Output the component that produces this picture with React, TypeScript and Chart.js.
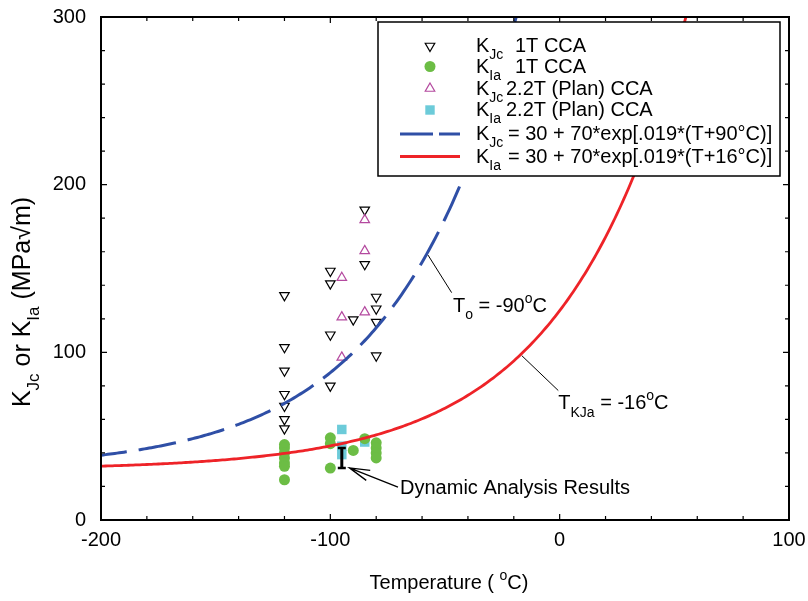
import React, { useEffect, useRef } from "react";
import { Chart, registerables } from "chart.js";

Chart.register(...registerables);

const FONT = "'Liberation Sans', Arial, Helvetica, sans-serif";

// K_Jc, 1T CCA specimens (temperature °C, toughness MPa√m)
const kjc1tT = [-120, -120, -120, -120, -120, -120, -120, -100, -100, -100, -100, -90, -85, -85, -80, -80, -80, -80];
const kjc1tK = [134, 103, 89, 75, 68, 60, 54.5, 148.5, 141, 110.5, 80, 119.5, 185, 152.5, 133, 126, 118, 98];

// K_Ia, 1T CCA specimens
const kia1tT = [-120, -120, -120, -120, -120, -120, -120, -100, -100, -100, -90, -85, -80, -80, -80, -80];
const kia1tK = [45, 43, 40, 37, 34, 32, 24, 49, 45.5, 31, 41.5, 48.5, 46, 43, 40, 37];

// K_Jc, 2.2T (Plan) CCA specimens
const kjc22T = [-85, -85, -95, -95, -95, -85];
const kjc22K = [179, 160.5, 144.5, 121, 97, 124];

// K_Ia, 2.2T (Plan) CCA specimens
const kia22T = [-95, -95, -95, -85];
const kia22K = [54, 44, 39, 46.5];

// Range from the dynamic analysis
const dynT = -95;
const dynLow = 31;
const dynHigh = 43;

// Curves K = A + B*exp[C*(T - Tref)]
const CURVE_A = 30;
const CURVE_B = 70;
const CURVE_C = 0.019;
const T_O = -90;
const T_KJA = -16;

const T_MIN = -200;
const T_MAX = 100;
const K_MIN = 0;
const K_MAX = 300;

const xTickStep = 100;
const yTickStep = 100;
const minorStep = 20;

const COLORS = {
  kjc1t: "#000000",
  kia1t: "#6cbd45",
  kjc22: "#b4499f",
  kia22: "#6ccbd9",
  blue: "#2f4fa6",
  red: "#ee2328",
};

const BLUE_DASH = [38, 12];

function curvePoints(tref: number) {
  const pts: { x: number; y: number }[] = [];
  for (let t = T_MIN; t <= T_MAX; t += 1) {
    const k = CURVE_A + CURVE_B * Math.exp(CURVE_C * (t - tref));
    pts.push({ x: t, y: k });
    if (k > K_MAX) break;
  }
  return pts;
}

const pairs = (xs: number[], ys: number[]) => xs.map((x, i) => ({ x, y: ys[i] }));

type Seg = { t: string; size?: number; dy?: number };

function richWidth(ctx: CanvasRenderingContext2D, segs: Seg[]) {
  let w = 0;
  for (const s of segs) {
    ctx.font = `${s.size ?? 20}px ${FONT}`;
    w += ctx.measureText(s.t).width;
  }
  return w;
}

function drawRich(ctx: CanvasRenderingContext2D, segs: Seg[], x: number, y: number, center = false) {
  let cx = center ? x - richWidth(ctx, segs) / 2 : x;
  ctx.textAlign = "left";
  ctx.textBaseline = "alphabetic";
  for (const s of segs) {
    ctx.font = `${s.size ?? 20}px ${FONT}`;
    ctx.fillText(s.t, cx, y + (s.dy ?? 0));
    cx += ctx.measureText(s.t).width;
  }
  return cx;
}

function symbol(ctx: CanvasRenderingContext2D, kind: string, x: number, y: number) {
  ctx.save();
  ctx.setLineDash([]);
  if (kind === "down" || kind === "up") {
    const r = 5.5;
    const s = kind === "down" ? -1 : 1;
    ctx.beginPath();
    ctx.moveTo(x, y - s * r);
    ctx.lineTo(x + r * Math.sin(Math.PI / 3), y + s * r / 2);
    ctx.lineTo(x - r * Math.sin(Math.PI / 3), y + s * r / 2);
    ctx.closePath();
    ctx.lineWidth = 1.2;
    ctx.strokeStyle = kind === "down" ? COLORS.kjc1t : COLORS.kjc22;
    ctx.stroke();
  } else if (kind === "circle") {
    ctx.beginPath();
    ctx.arc(x, y, 5.5, 0, Math.PI * 2);
    ctx.fillStyle = COLORS.kia1t;
    ctx.fill();
  } else if (kind === "square") {
    ctx.fillStyle = COLORS.kia22;
    ctx.fillRect(x - 4.7, y - 4.7, 9.4, 9.4);
  } else {
    ctx.lineWidth = 3;
    ctx.strokeStyle = kind === "blue" ? COLORS.blue : COLORS.red;
    if (kind === "blue") ctx.setLineDash([33, 6]);
    ctx.beginPath();
    ctx.moveTo(x - 30, y);
    ctx.lineTo(x + 30, y);
    ctx.stroke();
  }
  ctx.restore();
}

const SUB = 14;
const legendRows: { kind: string; y: number; sub: string; tail: string; tailX: number }[] = [
  { kind: "down", y: 46, sub: "Jc", tail: "1T CCA", tailX: 515 },
  { kind: "circle", y: 66.5, sub: "Ia", tail: "1T CCA", tailX: 515 },
  { kind: "up", y: 88.5, sub: "Jc", tail: "2.2T (Plan) CCA", tailX: 506 },
  { kind: "square", y: 110, sub: "Ia", tail: "2.2T (Plan) CCA", tailX: 506 },
  { kind: "blue", y: 134, sub: "Jc", tail: `= ${CURVE_A} + ${CURVE_B}*exp[.019*(T+${-T_O}°C)]`, tailX: 508 },
  { kind: "red", y: 156.5, sub: "Ia", tail: `= ${CURVE_A} + ${CURVE_B}*exp[.019*(T+${-T_KJA}°C)]`, tailX: 508 },
];

const decorPlugin = {
  id: "decor",
  afterDatasetsDraw(chart: any) {
    const { ctx, chartArea: a } = chart;
    const xs = chart.scales.x;
    const ys = chart.scales.y;
    const px = (t: number) => xs.getPixelForValue(t);
    const py = (k: number) => ys.getPixelForValue(k);
    ctx.save();
    ctx.fillStyle = "#000";
    ctx.strokeStyle = "#000";

    // dynamic analysis range bar
    const bx = px(dynT);
    ctx.lineWidth = 3;
    ctx.beginPath();
    ctx.moveTo(bx, py(dynLow));
    ctx.lineTo(bx, py(dynHigh));
    ctx.stroke();
    ctx.lineWidth = 2.5;
    ctx.beginPath();
    ctx.moveTo(bx - 4, py(dynLow));
    ctx.lineTo(bx + 4, py(dynLow));
    ctx.moveTo(bx - 4, py(dynHigh));
    ctx.lineTo(bx + 4, py(dynHigh));
    ctx.stroke();

    // arrow to the range bar
    const tipX = px(-91.7), tipY = py(31.1);
    const tailX = px(-70.5), tailY = py(19.6);
    const ang = Math.atan2(tailY - tipY, tailX - tipX);
    ctx.lineWidth = 1.3;
    ctx.beginPath();
    ctx.moveTo(tailX, tailY);
    ctx.lineTo(tipX, tipY);
    ctx.moveTo(tipX + 21 * Math.cos(ang - 0.26), tipY + 21 * Math.sin(ang - 0.26));
    ctx.lineTo(tipX, tipY);
    ctx.lineTo(tipX + 21 * Math.cos(ang + 0.26), tipY + 21 * Math.sin(ang + 0.26));
    ctx.stroke();
    drawRich(ctx, [{ t: "Dynamic Analysis Results" }], px(-69.6), py(15.4));

    // leader lines and reference temperature labels
    ctx.lineWidth = 1;
    ctx.beginPath();
    ctx.moveTo(px(-57.4), py(158));
    ctx.lineTo(px(-47.1), py(135.6));
    ctx.moveTo(px(-16.5), py(98));
    ctx.lineTo(px(-0.6), py(77.2));
    ctx.stroke();
    drawRich(ctx, [
      { t: "T" },
      { t: "o", size: SUB, dy: 7 },
      { t: ` = ${T_O}` },
      { t: "o", size: SUB, dy: -9 },
      { t: "C" },
    ], px(-46.5), py(124));
    drawRich(ctx, [
      { t: "T" },
      { t: "KJa", size: SUB, dy: 8 },
      { t: ` = ${T_KJA}` },
      { t: "o", size: SUB, dy: -9 },
      { t: "C" },
    ], px(-0.6), py(66.5));

    // frame with inward ticks on all sides
    ctx.lineWidth = 2;
    ctx.strokeRect(a.left, a.top, a.right - a.left, a.bottom - a.top);
    ctx.lineWidth = 1.2;
    ctx.beginPath();
    for (let t = T_MIN; t <= T_MAX; t += minorStep) {
      const x = px(t);
      const len = t % xTickStep === 0 ? 6 : 4;
      ctx.moveTo(x, a.bottom);
      ctx.lineTo(x, a.bottom - len);
      ctx.moveTo(x, a.top);
      ctx.lineTo(x, a.top + len);
    }
    for (let k = K_MIN; k <= K_MAX; k += minorStep) {
      const y = py(k);
      const len = k % yTickStep === 0 ? 6 : 4;
      ctx.moveTo(a.left, y);
      ctx.lineTo(a.left + len, y);
      ctx.moveTo(a.right, y);
      ctx.lineTo(a.right - len, y);
    }
    ctx.stroke();

    // legend
    const L = 378, T = 22, R = 780, B = 176;
    ctx.fillStyle = "#fff";
    ctx.fillRect(L, T, R - L, B - T);
    ctx.strokeStyle = "#000";
    ctx.lineWidth = 1.5;
    ctx.strokeRect(L, T, R - L, B - T);
    ctx.fillStyle = "#000";
    for (const row of legendRows) {
      symbol(ctx, row.kind, 430, row.y);
      const base = row.y + 6;
      drawRich(ctx, [{ t: "K" }, { t: row.sub, size: SUB, dy: 7 }], 476, base);
      drawRich(ctx, [{ t: row.tail }], row.tailX, base);
    }
    ctx.restore();
  },
  afterDraw(chart: any) {
    const { ctx, chartArea: a } = chart;
    ctx.save();
    ctx.fillStyle = "#000";
    // x-axis title
    drawRich(ctx, [
      { t: "Temperature ( " },
      { t: "o", size: SUB, dy: -9 },
      { t: "C)" },
    ], (a.left + a.right) / 2 + 4, 589, true);
    // y-axis title, rotated
    ctx.translate(30, 302);
    ctx.rotate(-Math.PI / 2);
    drawRich(ctx, [
      { t: "K", size: 25 },
      { t: "Jc", size: 17, dy: 9 },
      { t: " or K", size: 25 },
      { t: "Ia", size: 17, dy: 9 },
      { t: " (MPa\u221Am)", size: 25 },
    ], 0, 0, true);
    ctx.restore();
  },
};

export default function App() {
  const ref = useRef<HTMLCanvasElement | null>(null);

  useEffect(() => {
    const canvas = ref.current;
    if (!canvas) return;
    const tickFont = { family: FONT, size: 20, lineHeight: 1 };
    const chart = new Chart(canvas, {
      type: "scatter",
      data: {
        datasets: [
          {
            label: "KJc = 30 + 70*exp[.019*(T+90°C)]",
            data: curvePoints(T_O),
            showLine: true,
            borderColor: COLORS.blue,
            borderWidth: 3,
            borderDash: BLUE_DASH,
            borderDashOffset: 12,
            pointRadius: 0,
            fill: false,
            order: 0,
          },
          {
            label: "KIa = 30 + 70*exp[.019*(T+16°C)]",
            data: curvePoints(T_KJA),
            showLine: true,
            borderColor: COLORS.red,
            borderWidth: 2.8,
            pointRadius: 0,
            fill: false,
            order: 0,
          },
          {
            label: "KJc 1T CCA",
            data: pairs(kjc1tT, kjc1tK),
            pointStyle: "triangle",
            rotation: 180,
            radius: 5.5,
            backgroundColor: "rgba(0,0,0,0)",
            borderColor: COLORS.kjc1t,
            borderWidth: 1.2,
            order: 2,
          },
          {
            label: "KIa 1T CCA",
            data: pairs(kia1tT, kia1tK),
            pointStyle: "circle",
            radius: 5.5,
            backgroundColor: COLORS.kia1t,
            borderWidth: 0,
            order: 3,
          },
          {
            label: "KJc 2.2T (Plan) CCA",
            data: pairs(kjc22T, kjc22K),
            pointStyle: "triangle",
            radius: 5.5,
            backgroundColor: "rgba(0,0,0,0)",
            borderColor: COLORS.kjc22,
            borderWidth: 1.2,
            order: 1,
          },
          {
            label: "KIa 2.2T (Plan) CCA",
            data: pairs(kia22T, kia22K),
            pointStyle: "rect",
            radius: 6.7,
            backgroundColor: COLORS.kia22,
            borderWidth: 0,
            order: 4,
          },
        ],
      },
      options: {
        responsive: false,
        animation: false,
        devicePixelRatio: 1,
        layout: { autoPadding: false, padding: { top: 12, right: 19, bottom: 0, left: 0 } },
        plugins: { legend: { display: false }, tooltip: { enabled: false } },
        scales: {
          x: {
            type: "linear",
            min: T_MIN,
            max: T_MAX,
            grid: { display: false },
            border: { display: false },
            ticks: { stepSize: xTickStep, color: "#000", font: tickFont, padding: 2, maxRotation: 0, autoSkip: false },
            afterFit: (s: any) => {
              s.height = 81;
            },
          },
          y: {
            type: "linear",
            min: K_MIN,
            max: K_MAX,
            grid: { display: false },
            border: { display: false },
            ticks: { stepSize: yTickStep, color: "#000", font: tickFont, padding: 7 },
            afterFit: (s: any) => {
              s.width = 101;
            },
          },
        },
      } as any,
      plugins: [decorPlugin],
    });
    return () => chart.destroy();
  }, []);

  return (
    <div style={{ position: "fixed", left: 0, top: 0, width: 808, height: 601, background: "#fff" }}>
      <canvas ref={ref} width={808} height={601} style={{ display: "block" }} />
    </div>
  );
}
